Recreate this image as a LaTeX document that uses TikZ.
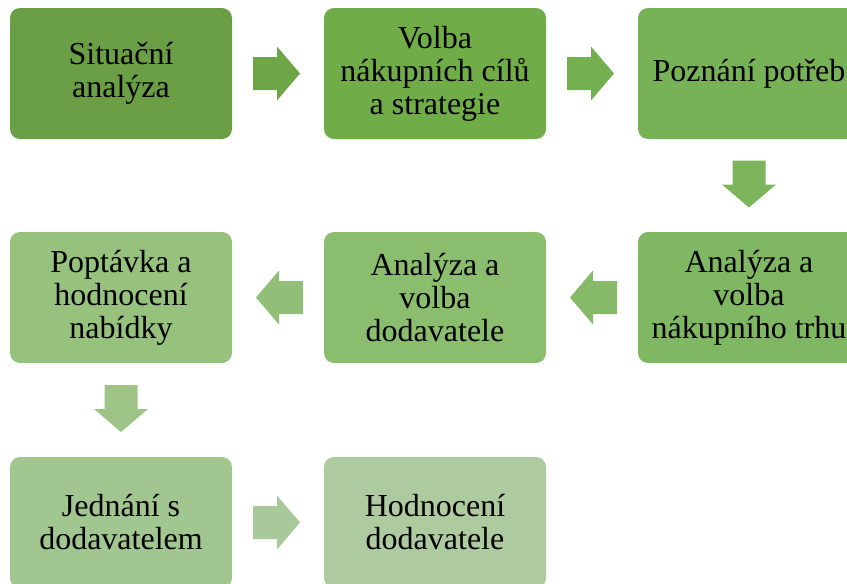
\documentclass[tikz,border=0pt]{standalone}
\usepackage{fontspec}
\setmainfont{Liberation Serif}
\usetikzlibrary{calc}
\definecolor{cA}{HTML}{6A9F45}
\definecolor{cB}{HTML}{70AC48}
\definecolor{cC}{HTML}{78B256}
\definecolor{cD}{HTML}{80B763}
\definecolor{cE}{HTML}{8BBD6F}
\definecolor{cF}{HTML}{97C27E}
\definecolor{cG}{HTML}{A2C690}
\definecolor{cH}{HTML}{AECB9F}
\definecolor{aA}{HTML}{6DA547}
\definecolor{aB}{HTML}{74B04F}
\definecolor{aC}{HTML}{7CB55C}
\definecolor{aD}{HTML}{86BA69}
\definecolor{aE}{HTML}{91BF77}
\definecolor{aF}{HTML}{9DC486}
\definecolor{aG}{HTML}{A9C99A}
\tikzset{
  stepbox/.style={draw=none, rounded corners=10pt, minimum width=222pt, minimum height=131pt,
    align=center, inner sep=2pt, font=\fontsize{32}{33}\selectfont, text=black},
  blockarrow/.pic={\fill (-23.5,-16.5) -- (0.5,-16.5) -- (0.5,-27) -- (23.5,0) -- (0.5,27) -- (0.5,16.5) -- (-23.5,16.5) -- cycle;}
}
\begin{document}
\begin{tikzpicture}[x=1pt,y=1pt]
\useasboundingbox (0,0) rectangle (847,-584);
\clip (0,0) rectangle (847,-584);
\node[stepbox, fill=cA] (n1) at (121,-73.5) {Situační\\analýza};
\node[stepbox, fill=cB] (n2) at (435,-73.5) {Volba\\nákupních cílů\\a strategie};
\node[stepbox, fill=cC] (n3) at (749,-73.5) {Poznání potřeb};
\node[stepbox, fill=cD] (n4) at (749,-297.5) {Analýza a\\volba\\nákupního trhu};
\node[stepbox, fill=cE] (n5) at (435,-297.5) {Analýza a\\volba\\dodavatele};
\node[stepbox, fill=cF] (n6) at (121,-297.5) {Poptávka a\\hodnocení\\nabídky};
\node[stepbox, fill=cG] (n7) at (121,-522.5) {Jednání s\\dodavatelem};
\node[stepbox, fill=cH] (n8) at (435,-522.5) {Hodnocení\\dodavatele};
\path[fill=aA] ($(n1.east)!0.5!(n2.west)+(-1.5,0)$) pic {blockarrow};
\path[fill=aB] ($(n2.east)!0.5!(n3.west)+(-1.5,0)$) pic {blockarrow};
\path[fill=aC] ($(n3.south)!0.5!(n4.north)+(0,1.5)$) pic[rotate=-90] {blockarrow};
\path[fill=aD] ($(n4.west)!0.5!(n5.east)+(1.5,0)$) pic[rotate=180] {blockarrow};
\path[fill=aE] ($(n5.west)!0.5!(n6.east)+(1.5,0)$) pic[rotate=180] {blockarrow};
\path[fill=aF] ($(n6.south)!0.5!(n7.north)+(0,1.5)$) pic[rotate=-90] {blockarrow};
\path[fill=aG] ($(n7.east)!0.5!(n8.west)+(-1.5,0)$) pic {blockarrow};
\end{tikzpicture}
\end{document}
